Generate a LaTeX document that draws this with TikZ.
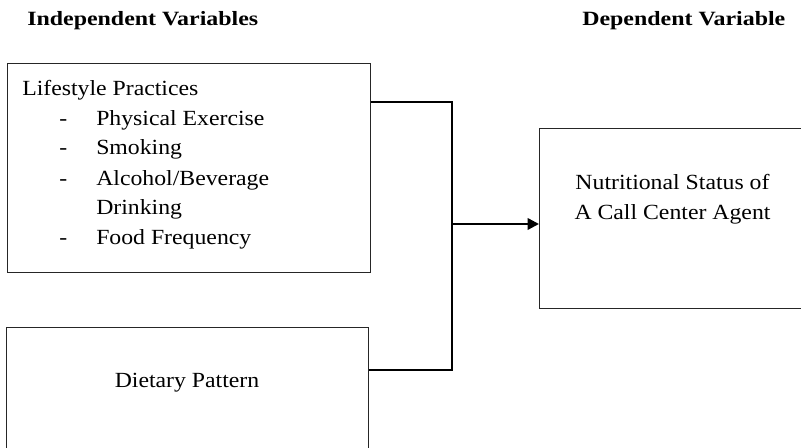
\documentclass[tikz,border=0pt]{standalone}
\usepackage{fontspec}
\setmainfont{Liberation Serif}[FakeStretch=1.1]
\newfontfamily\hfont{Liberation Serif}[FakeStretch=1.18]
\usetikzlibrary{arrows.meta}
\begin{document}
\begin{tikzpicture}[x=0.75pt,y=-0.75pt,
  box/.style={draw=black!85, line width=0.9pt, inner sep=0, anchor=north west},
  conn/.style={line width=1.8pt, draw=black},
  txt/.style={inner sep=0, anchor=base west, font=\fontsize{16.2}{19}\selectfont},
  ctxt/.style={inner sep=0, anchor=base, font=\fontsize{16.2}{19}\selectfont},
  head/.style={inner sep=0, anchor=base west, font=\hfont\fontsize{15.2}{18}\selectfont\bfseries}]
\useasboundingbox (0,0) rectangle (801,448);
\clip (0,0) rectangle (801,448);

% titles
\node[head] (hind) at (27,26) {Independent Variables};
\node[head] (hdep) at (582,26) {Dependent Variable};

% boxes
\node[box, minimum width=272.25pt, minimum height=156.75pt] (b1) at (7,63) {};
\node[box, minimum width=271.5pt, minimum height=99.75pt] (b2) at (6,327) {};
\node[box, minimum width=200.25pt, minimum height=135pt] (b3) at (539,128) {};

% box 1 text
\node[txt] (t0) at (22,96) {Lifestyle Practices};
\node[txt] (d1) at (59,125.5) {-};
\node[txt] (t1) at (96,125.5) {Physical Exercise};
\node[txt] (d2) at (59,155) {-};
\node[txt] (t2) at (96,155) {Smoking};
\node[txt] (d3) at (59,185.5) {-};
\node[txt] (t3) at (96,185.5) {Alcohol/Beverage};
\node[txt] (t4) at (96,215) {Drinking};
\node[txt] (d5) at (59,245) {-};
\node[txt] (t5) at (96,245) {Food Frequency};

% box 2 text
\node[ctxt] (t6) at (187,388) {Dietary Pattern};

% box 3 text
\node[ctxt] (t7) at (672.5,190) {Nutritional Status of};
\node[ctxt] (t8) at (672.5,220) {A Call Center Agent};

% connectors
\coordinate (j1) at (452,102);
\coordinate (j2) at (452,370);
\coordinate (jm) at (452,224);
\draw[conn] (b1.east |- j1) -- (j1) -- (j2) -- (b2.east |- j2);
\draw[conn, -{Triangle[length=8.5pt,width=8.5pt]}] (jm) -- (b3.west |- jm);
\end{tikzpicture}
\end{document}
